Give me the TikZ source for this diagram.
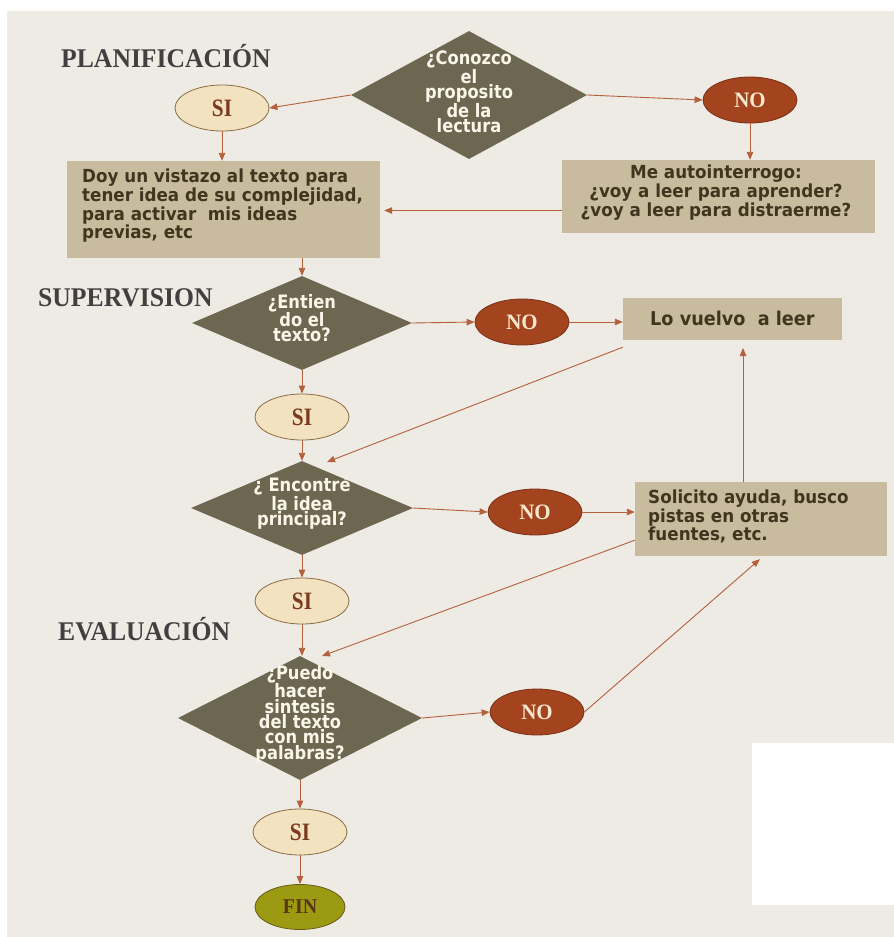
\documentclass[tikz,border=0pt]{standalone}
\usepackage{fontspec}
\usetikzlibrary{shapes.geometric,arrows.meta,calc}
\setmainfont{Liberation Serif}
\newfontfamily\titlefont[FakeStretch=0.95]{Liberation Serif}
\newfontfamily\ovalfont[FakeStretch=0.85]{Liberation Serif}
\newfontfamily\boxfont[FakeStretch=0.93]{DejaVu Sans}
\newfontfamily\diafont[FakeStretch=0.88]{DejaVu Sans}
\definecolor{bg}{HTML}{EEEBE5}
\definecolor{dia}{HTML}{6D6651}
\definecolor{tan}{HTML}{C9BB9E}
\definecolor{sifill}{HTML}{F3E2BF}
\definecolor{siedge}{HTML}{8A6C42}
\definecolor{sitxt}{HTML}{7B3A1F}
\definecolor{nofill}{HTML}{A3441F}
\definecolor{noedge}{HTML}{7A2F14}
\definecolor{notxt}{HTML}{F6E8CC}
\definecolor{finfill}{HTML}{9C9912}
\definecolor{finedge}{HTML}{6A5A18}
\definecolor{fintxt}{HTML}{5A3612}
\definecolor{arr}{HTML}{B4603C}
\definecolor{ttl}{HTML}{404040}
\definecolor{btxt}{HTML}{40361F}
\definecolor{dtxt}{HTML}{FBF6EA}
\tikzset{
  diashape/.style={diamond,fill=dia,inner sep=0pt},
  diatext/.style={text=dtxt,font=\diafont\bfseries\fontsize{18.5}{13}\selectfont,align=center,inner sep=0pt},
  sinode/.style={ellipse,fill=sifill,draw=siedge,line width=0.8pt,minimum width=94pt,minimum height=46pt,inner sep=0pt,text=sitxt,font=\ovalfont\bfseries\fontsize{25}{25}\selectfont},
  nonode/.style={ellipse,fill=nofill,draw=noedge,line width=0.8pt,minimum width=94pt,minimum height=46pt,inner sep=0pt,text=notxt,font=\titlefont\bfseries\fontsize{22}{22}\selectfont},
  finnode/.style={ellipse,fill=finfill,draw=finedge,line width=0.8pt,minimum width=90pt,minimum height=45pt,inner sep=0pt,text=fintxt,font=\titlefont\bfseries\fontsize{21}{21}\selectfont},
  boxnode/.style={rectangle,fill=tan,inner sep=0pt},
  boxtext/.style={inner sep=0pt,text=btxt,font=\boxfont\bfseries\fontsize{18}{16.5}\selectfont},
  titlenode/.style={text=ttl,font=\titlefont\bfseries\fontsize{27}{27}\selectfont,inner sep=0pt,anchor=base west},
  flow/.style={draw=arr,line width=0.9pt,-{Triangle[length=8pt,width=6.5pt]}}
}
\begin{document}
\begin{tikzpicture}[x=1pt,y=-1pt]
\useasboundingbox (0,0) rectangle (894,937);
\fill[white] (0,0) rectangle (894,937);
\fill[bg] (7,11) rectangle (894,937);
\fill[white] (752,743) rectangle (894,905);

% titles
\node[titlenode] (t1) at (61,67) {PLANIFICACIÓN};
\node[titlenode] (t2) at (38,306) {SUPERVISION};
\node[titlenode] (t3) at (58,640) {EVALUACIÓN};

% planning
\node[diashape,minimum width=236pt,minimum height=128pt] (d1) at (469,95) {};
\node[diatext] (d1t) at (469,92) {¿Conozco\\el\\proposito\\de la\\lectura};
\node[sinode] (si1) at (222,108) {SI};
\node[nonode] (no1) at (750,100) {NO};
\node[boxnode,minimum width=313pt,minimum height=97pt] (b1) at (223.5,209.5) {};
\node[boxtext,anchor=north west,align=left] (b1t) at (82,169) {Doy un vistazo al texto para\\tener idea de su complejidad,\\para activar\ \ mis ideas\\previas, etc};
\node[boxnode,minimum width=313pt,minimum height=73pt] (b2) at (718.5,196.5) {};
\node[boxtext,anchor=north,align=center] (b2t) at (716,165) {Me autointerrogo:\\¿voy a leer para aprender?\\¿voy a leer para distraerme?};

% supervision
\node[diashape,minimum width=220pt,minimum height=94pt] (d2) at (302,323) {};
\node[diatext] (d2t) at (302,318) {¿Entien\\do el\\texto?};
\node[nonode] (no2) at (522,322) {NO};
\node[boxnode,minimum width=219pt,minimum height=42pt] (b3) at (732.5,319) {};
\node[boxtext,font=\boxfont\bfseries\fontsize{19}{19}\selectfont,anchor=base west] (b3t) at (650,325) {Lo vuelvo\ \ a leer};
\node[sinode] (si2) at (302,417) {SI};
\node[diashape,minimum width=222pt,minimum height=94pt] (d3) at (302,508) {};
\node[diatext] (d3t) at (302,503) {¿ Encontré\\la idea\\principal?};
\node[nonode] (no3) at (535,512) {NO};
\node[boxnode,minimum width=252pt,minimum height=74pt] (b4) at (761,519) {};
\node[boxtext,anchor=north west,align=left] (b4t) at (648,490) {Solicito ayuda, busco\\pistas en otras\\fuentes, etc.};
\node[sinode] (si3) at (302,601) {SI};

% evaluation
\node[diashape,minimum width=244pt,minimum height=124pt] (d4) at (300,718) {};
\node[diatext] (d4t) at (300,714) {¿Puedo\\hacer\\sintesis\\del texto\\con mis\\palabras?};
\node[nonode] (no4) at (537,712) {NO};
\node[sinode] (si4) at (300,832) {SI};
\node[finnode] (fin) at (300,907) {FIN};

\coordinate (e1) at (327,462);
\coordinate (e2) at (322,656);
\coordinate (up1) at (743,482);
\coordinate (up2) at (743,340);

% connectors
\draw[flow] (d1.west) -- (si1.east);
\draw[flow] (d1.east) -- (no1.west);
\draw[flow] (si1.south) -- (si1.south |- b1.north);
\draw[flow] (no1.south) -- (no1.south |- b2.north);
\draw[flow,shorten >=4pt] (b2.west) ++(0,14) coordinate (b2w) -- (b2w -| b1.east);
\draw[flow] (b1.south -| d2.north) -- (d2.north);
\draw[flow] (d2.east) -- (no2.west);
\draw[flow] (no2.east) -- (no2.east -| b3.west);
\draw[flow] (d2.south) -- (si2.north);
\draw[flow] (si2.south) -- (d3.north);
\draw[flow] ($(b3.south west)+(0,7)$) -- (e1);
\draw[flow] (d3.east) -- (no3.west);
\draw[flow] (no3.east) -- (no3.east -| b4.west);
\draw[flow,shorten >=8pt] (up1) -- (up2);
\draw[flow] (d3.south) -- (si3.north);
\draw[flow] ($(b4.south west)+(0,-16)$) -- (e2);
\draw[flow] (si3.south) -- (si3.south |- d4.north);
\draw[flow] (d4.east) -- (no4.west);
\draw[flow] (no4.east) -- ($(b4.south west)+(125,3)$);
\draw[flow] (d4.south) -- (si4.north);
\draw[flow] (si4.south) -- (fin.north);
\end{tikzpicture}
\end{document}
